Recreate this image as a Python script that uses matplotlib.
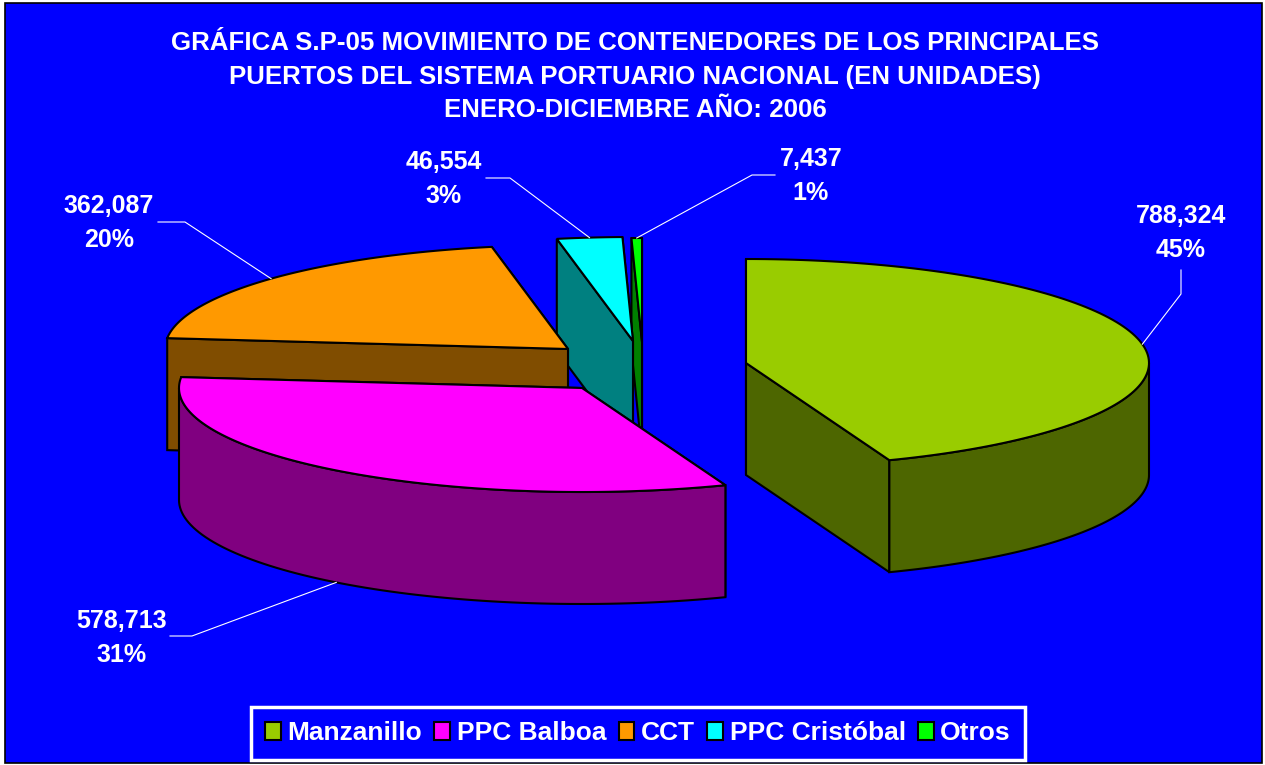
import numpy as np
import matplotlib
matplotlib.use('Agg')
import matplotlib.pyplot as plt
from matplotlib.patches import Polygon, Patch

plt.rcParams['font.family'] = ['Liberation Sans', 'DejaVu Sans']
plt.rcParams['font.weight'] = 'bold'

# Datos del grafico
puertos = ['Manzanillo', 'PPC Balboa', 'CCT', 'PPC Cristóbal', 'Otros']
contenedores = [788324, 578713, 362087, 46554, 7437]
etiquetas_valor = ['788,324', '578,713', '362,087', '46,554', '7,437']
etiquetas_pct = ['45%', '31%', '20%', '3%', '1%']

titulo = ('GRÁFICA S.P-05 MOVIMIENTO DE CONTENEDORES DE LOS PRINCIPALES\n'
          'PUERTOS DEL SISTEMA PORTUARIO NACIONAL (EN UNIDADES)\n'
          'ENERO-DICIEMBRE AÑO: 2006')

colores = ['#99CC00', '#FF00FF', '#FF9900', '#00FFFF', '#00FF00']
colores_pared = ['#4D6600', '#800080', '#804D00', '#008080', '#008000']

# Geometria del pastel en pixeles (el eje usa la escala de la imagen)
RX = 403
RY = 104
ALTO = 112
centros = [(746, 363), (582, 388), (568, 349), (633, 341), (642, 342)]

# Lineas guia y posicion de textos
codos = [[(1181, 294), (1181, 270)], [(192, 636), (170, 636)], [(185, 222), (158, 222)],
         [(510, 178), (486, 178)], [(752, 175), (775, 175)]]
pos_texto = [(1181, 233), (122, 638), (109, 223), (444, 179), (811, 176)]

fig = plt.figure(figsize=(12.65, 7.65), dpi=100, facecolor='white')
ax = fig.add_axes([0, 0, 1, 1])
ax.set_xlim(0, 1265)
ax.set_ylim(765, 0)
ax.axis('off')

# Fondo azul del area del grafico
ax.add_patch(Polygon([(5, 3), (1262, 3), (1262, 763), (5, 763)], closed=True,
                     facecolor='#0000FF', edgecolor='black', lw=1.2, zorder=0))


def punto(centro, ang):
    # angulo en grados, en sentido horario desde arriba
    a = np.radians(ang)
    return centro[0] + RX * np.sin(a), centro[1] - RY * np.cos(a)


def dibujar_sector(centro, a0, a1, color, pared, z):
    cx, cy = centro
    lw = 1.5
    # paredes rectas, primero la que queda mas atras
    for ang in sorted([a0, a1], key=lambda v: -np.cos(np.radians(v))):
        x, y = punto(centro, ang)
        ax.add_patch(Polygon([(cx, cy), (x, y), (x, y + ALTO), (cx, cy + ALTO)], closed=True,
                             facecolor=pared, edgecolor='black', lw=lw, zorder=z))
    # borde exterior, solo la parte que mira al frente
    f0, f1 = max(a0, 90), min(a1, 270)
    if f1 > f0:
        angs = np.linspace(f0, f1, 80)
        arriba = [punto(centro, v) for v in angs]
        abajo = [(x, y + ALTO) for x, y in arriba][::-1]
        ax.add_patch(Polygon(arriba + abajo, closed=True, facecolor=pared,
                             edgecolor='black', lw=lw, zorder=z + 0.1))
    # cara superior
    angs = np.linspace(a0, a1, 120)
    cara = [(cx, cy)] + [punto(centro, v) for v in angs]
    ax.add_patch(Polygon(cara, closed=True, facecolor=color, edgecolor='black',
                         lw=lw, joinstyle='miter', zorder=z + 0.2))


total = sum(contenedores)
limites = np.cumsum([0] + contenedores) / total * 360

# Orden de dibujo: de atras hacia adelante
for z, i in enumerate([4, 3, 2, 1, 0]):
    dibujar_sector(centros[i], limites[i], limites[i + 1], colores[i], colores_pared[i], 2 + z)

# Lineas guia y etiquetas
for i in range(len(puertos)):
    medio = (limites[i] + limites[i + 1]) / 2
    x, y = punto(centros[i], medio)
    if np.cos(np.radians(medio)) < 0:
        y += ALTO
    xs = [x] + [c[0] for c in codos[i]]
    ys = [y] + [c[1] for c in codos[i]]
    ax.plot(xs, ys, color='white', lw=0.8, zorder=10)
    ax.text(pos_texto[i][0], pos_texto[i][1], etiquetas_valor[i] + '\n' + etiquetas_pct[i],
            color='white', fontsize=18, ha='center', va='center', linespacing=1.52, zorder=11)

ax.text(635, 76.5, titulo, color='white', fontsize=18.6, ha='center', va='center',
        linespacing=1.52, zorder=11)

# Leyenda
handles = [Patch(facecolor=c, edgecolor='black', lw=1.5) for c in colores]
leg = ax.legend(handles, puertos, ncol=5, loc='center', bbox_to_anchor=(638, 733.5),
                bbox_transform=ax.transData, fontsize=19, labelcolor='white',
                facecolor='#0000FF', edgecolor='white', framealpha=1, fancybox=False,
                handlelength=0.6, handleheight=0.65, handletextpad=0.25, columnspacing=0.46,
                borderpad=0.55, borderaxespad=0)
leg.get_frame().set_linewidth(2.5)
leg.set_zorder(12)

fig.savefig('out.png', dpi=100, facecolor=fig.get_facecolor())
